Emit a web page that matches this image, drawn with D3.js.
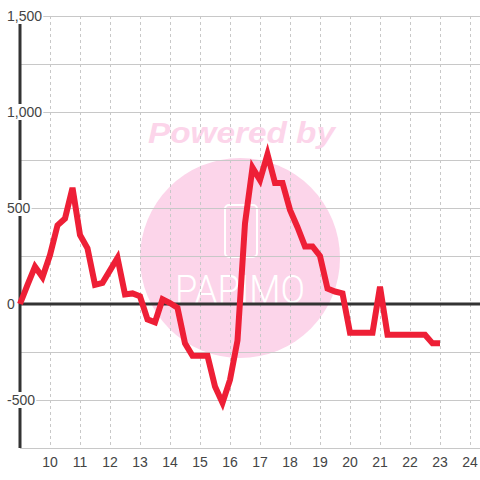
<!DOCTYPE html>
<html><head><meta charset="utf-8">
<script src="https://cdn.jsdelivr.net/npm/d3@7"></script>
<style>html,body{margin:0;padding:0;background:#fff;}svg{display:block;}</style>
</head><body>
<svg id="c" width="480" height="480"></svg>
<script>
const hours = [9,9.25,9.5,9.75,10,10.25,10.5,10.75,11,11.25,11.5,11.75,12,12.25,12.5,12.75,13,13.25,13.5,13.75,14,14.25,14.5,14.75,15,15.25,15.5,15.75,16,16.25,16.5,16.75,17,17.25,17.5,17.75,18,18.25,18.5,18.75,19,19.25,19.5,19.75,20,20.25,20.5,20.75,21,21.25,21.5,21.75,22,22.25,22.5,22.75,23];
const values = [0,100,195,140,255,410,445,605,360,290,100,110,175,240,50,55,40,-80,-95,25,5,-20,-205,-270,-270,-270,-430,-515,-395,-190,420,710,645,780,630,630,490,400,300,300,250,80,65,55,-150,-150,-150,-150,90,-160,-160,-160,-160,-160,-160,-205,-205];
const xTicks = [10,11,12,13,14,15,16,17,18,19,20,21,22,23,24];
const yGrid = [1500,1250,1000,750,500,250,0,-250,-500,-750];
const yLabels = ["1,500","1,000","500","0","-500"];
const yLabelValues = [1500,1000,500,0,-500];

const svg = d3.select("#c");
const x = d3.scaleLinear().domain([9, 24.333]).range([20, 480]);
const y = d3.scaleLinear().domain([-750, 1500]).range([448, 16]);

// watermark
const wm = svg.append("g");
wm.append("circle").attr("cx", 240).attr("cy", 258).attr("r", 100).attr("fill", "#fcd5ea");
wm.append("text").attr("x", 148).attr("y", 143).attr("textLength", 187).attr("lengthAdjust","spacingAndGlyphs")
  .attr("font-family","Liberation Sans, Arial, sans-serif").attr("font-weight","bold").attr("font-style","italic")
  .attr("font-size", 29).attr("fill", "#fcd5ea").text("Powered by");
wm.append("rect").attr("x", 225).attr("y", 205).attr("width", 32).attr("height", 52).attr("rx", 4)
  .attr("fill","none").attr("stroke","#fff").attr("stroke-width",2);
wm.append("text").attr("x", 175).attr("y", 303).attr("textLength", 130).attr("lengthAdjust","spacingAndGlyphs")
  .attr("font-family","Roboto, sans-serif").attr("font-weight","300")
  .attr("font-size", 38).attr("fill", "#fff").text("PAPIMO");

// grid
svg.append("g").selectAll("line").data(yGrid).join("line")
  .attr("x1", 20).attr("x2", 480).attr("y1", d => y(d)).attr("y2", d => y(d))
  .attr("stroke", "#c8c8c8").attr("stroke-width", 1).attr("shape-rendering","crispEdges");
svg.append("g").selectAll("line").data(xTicks).join("line")
  .attr("x1", d => x(d)).attr("x2", d => x(d)).attr("y1", 16).attr("y2", 448)
  .attr("stroke", "#c8c8c8").attr("stroke-width", 1).attr("stroke-dasharray","3,3").attr("shape-rendering","crispEdges");

// zero line
svg.append("line").attr("x1", 20).attr("x2", 480).attr("y1", y(0)).attr("y2", y(0))
  .attr("stroke", "#333").attr("stroke-width", 3);
// y axis line
svg.append("line").attr("x1", 20).attr("x2", 20).attr("y1", 16).attr("y2", 448)
  .attr("stroke", "#333").attr("stroke-width", 3);

// data line
const line = d3.line().x((d,i) => x(hours[i])).y(d => y(d));
svg.append("path").datum(values).attr("d", line).attr("fill","none")
  .attr("stroke", "#ee1f36").attr("stroke-width", 6).attr("stroke-linejoin","miter");

// y labels with white background
const yl = svg.append("g").selectAll("g").data(yLabelValues).join("g");
yl.each(function(d, i){
  const g = d3.select(this);
  const t = g.append("text").attr("x", 7).attr("y", y(d)).attr("dy","0.36em")
    .attr("font-family","Liberation Sans, Arial, sans-serif").attr("font-size",14).attr("fill","#444").text(yLabels[i]);
  const bb = t.node().getBBox();
  g.insert("rect","text").attr("x", bb.x - 1).attr("y", y(d) - 8).attr("width", bb.width + 2).attr("height", 16).attr("fill","#fff");
});

// x labels
svg.append("g").selectAll("text").data(xTicks).join("text")
  .attr("x", d => x(d)).attr("y", 467).attr("text-anchor","middle")
  .attr("font-family","Liberation Sans, Arial, sans-serif").attr("font-size",14).attr("fill","#444").text(d => d);
</script>
</body></html>
